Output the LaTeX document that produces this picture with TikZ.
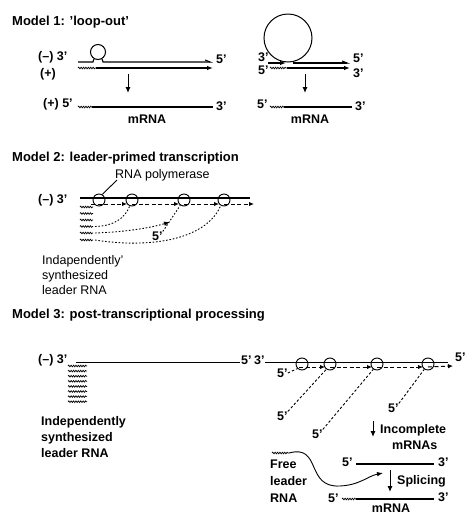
\documentclass[tikz,border=0pt]{standalone}
\usepackage{fontspec}
\setmainfont{Liberation Sans}
\usetikzlibrary{arrows.meta, decorations.pathmorphing, calc, positioning}
\tikzset{
    txt/.style = {inner sep=0pt, anchor=west, font=\fontsize{12.5}{15}\selectfont},
    btxt/.style = {txt, font=\fontsize{12.5}{15}\selectfont\bfseries},
    titletxt/.style = {inner sep=0pt, anchor=west, font=\fontsize{13}{15}\selectfont\bfseries},
    para/.style = {inner sep=0pt, anchor=north west, align=left, font=\fontsize{12.5}{15}\selectfont},
    strand/.style = {line width=1.1pt},
    thinstrand/.style = {line width=0.9pt},
    wavy/.style = {line width=0.7pt, decorate, decoration={snake, amplitude=0.8pt, segment length=2.4pt}},
    loopring/.style = {circle, draw, line width=1pt, inner sep=0pt},
    pol/.style = {circle, draw, line width=0.9pt, minimum size=12pt, inner sep=0pt},
    chainarrow/.style = {line width=1pt, dash pattern=on 4pt off 2.5pt, -{Latex[length=5pt,width=4.5pt]}},
    dotline/.style = {line width=0.9pt, dash pattern=on 1.6pt off 1.8pt},
    dashline/.style = {line width=0.9pt, dash pattern=on 2.5pt off 2pt},
    godown/.style = {line width=1pt, -{Latex[length=6pt,width=5pt]}},
    arrowtip/.style = {-{Latex[length=6pt,width=4.5pt]}},
    halftip/.style = {-{Straight Barb[left,length=5pt,width=4pt]}},
}

\begin{document}
\begin{tikzpicture}[x=1pt, y=-1pt]
\useasboundingbox (0,0) rectangle (465,515);

% Model 1
\node[titletxt] (h1) at (12,22) {Model 1: ’loop-out’};

\node[btxt] (m1l) at (38,57) {(–) 3’};
\node[btxt] (m1p) at (40,74) {(+)};
\coordinate (a1) at (78,62);
\coordinate (a2) at (93,62);
\coordinate (a3) at (103,62);
\coordinate (a4) at (213,62);
\node[loopring, minimum size=15pt] (lpa) at (98,52) {};
\draw[strand] (a1) -- (a2) -- (lpa.240);
\draw[strand, halftip] (lpa.300) -- (a3) -- (a4);
\coordinate (b1) at (78,68);
\coordinate (b2) at (96,68);
\coordinate (b3) at (213,68);
\draw[wavy] (b1) -- (b2);
\draw[strand, arrowtip] (b2) -- (b3);
\node[btxt] (m1r) at (216,59) {5’};
\coordinate (d1) at (128,74);
\coordinate (d2) at (128,93);
\draw[godown] (d1) -- (d2);
\node[btxt] (m1b) at (43,104) {(+) 5’};
\coordinate (r1) at (78,107);
\coordinate (r2) at (92,107);
\coordinate (r3) at (213,107);
\draw[wavy] (r1) -- (r2);
\draw[strand] (r2) -- (r3);
\node[btxt] (m1e) at (216,106) {3’};
\node[btxt, anchor=center] (mrna1) at (147,119) {mRNA};

\node[loopring, minimum size=48pt] (lpb) at (288,38) {};
\coordinate (c1) at (268,63);
\coordinate (c2) at (286,63);
\coordinate (c4) at (350,63);
\draw[strand, arrowtip] (c1) -- (c2);
\draw[strand, halftip] (lpb.282) |- (c4);
\coordinate (s1) at (270,68);
\coordinate (s2) at (287,68);
\coordinate (s3) at (350,68);
\draw[wavy] (s1) -- (s2);
\draw[strand, arrowtip] (s2) -- (s3);
\node[btxt] (n3) at (258,57) {3’};
\node[btxt] (n5) at (258,70) {5’};
\node[btxt] (n5r) at (353,58) {5’};
\node[btxt] (n3r) at (353,73) {3’};
\coordinate (d3) at (305,74);
\coordinate (d4) at (305,93);
\draw[godown] (d3) -- (d4);
\node[btxt] (n5b) at (257,104) {5’};
\coordinate (t1) at (270,107);
\coordinate (t2) at (284,107);
\coordinate (t3) at (352,107);
\draw[wavy] (t1) -- (t2);
\draw[strand] (t2) -- (t3);
\node[btxt] (n3b) at (355,106) {3’};
\node[btxt, anchor=center] (mrna2) at (310,119) {mRNA};

% Model 2
\node[titletxt] (h2) at (12,158) {Model 2: leader-primed transcription};
\node[txt] (rnap) at (115,175) {RNA polymerase};
\node[btxt] (m2l) at (38,200) {(–) 3’};
\coordinate (e1) at (80,198);
\coordinate (e2) at (250,198);
\draw[strand] (e1) -- (e2);
\node[pol] (pa1) at (99,200) {};
\node[pol] (pa2) at (132,200) {};
\node[pol] (pa3) at (184,200) {};
\node[pol] (pa4) at (224,200) {};
\draw[thinstrand] ($(rnap.south west)+(2,-1)$) -- (pa1.60);
\draw[chainarrow] ($(pa1)+(-8,4)$) -- ($(pa2)+(-5,4)$);
\draw[chainarrow] ($(pa2)+(0,4)$) -- ($(pa3)+(-5,4)$);
\draw[chainarrow] ($(pa3)+(0,4)$) -- ($(pa4)+(-5,4)$);
\coordinate (e3) at (254,204);
\draw[chainarrow] ($(pa4)+(0,4)$) -- (e3);
\foreach \y in {207,213.5,220,226.5,233,240}
    \draw[wavy] (80,\y) -- (93,\y);
\draw[dotline] (95,226.5) .. controls (112,226) and (124,220) .. (pa2.250);
\draw[dotline, arrowtip] (95,233) .. controls (125,232) and (150,228) .. (170,222);
\draw[dotline] (95,240) .. controls (145,248) and (205,242) .. (pa4.240);
\node[btxt] (f5) at (152,236) {5’};
\draw[dotline] (f5.north east) -- (pa3.235);
\node[para] (ind2) at (42,255) {Indapendently’\\synthesized\\leader RNA};

% Model 3
\node[titletxt] (h3) at (12,315) {Model 3: post-transcriptional processing};
\node[btxt] (m3l) at (38,360) {(–) 3’};
\coordinate (g1) at (76,362);
\coordinate (g2) at (240,362);
\draw[thinstrand] (g1) -- (g2);
\node[btxt] (g5) at (241,360) {5’};
\foreach \i in {0,...,7}
    \draw[wavy] (68,{366+5.1*\i}) -- (87,{366+5.1*\i});
\node[para, font=\fontsize{12.5}{16}\selectfont\bfseries] (ind3) at (41,416) {Independently\\synthesized\\leader RNA};

\node[btxt] (k3) at (254,360) {3’};
\coordinate (k1) at (265,362);
\coordinate (k2) at (448,362);
\draw[thinstrand] (k1) -- (k2);
\node[pol] (qa1) at (302,364) {};
\node[pol] (qa2) at (330,364) {};
\node[pol] (qa3) at (377,364) {};
\node[pol] (qa4) at (428,364) {};
\draw[chainarrow] ($(qa1)+(-3,3)$) -- ($(qa2)+(-5,3)$);
\draw[chainarrow] ($(qa2)+(0,3)$) -- ($(qa3)+(-5,3)$);
\draw[chainarrow] ($(qa3)+(0,3)$) -- ($(qa4)+(-5,3)$);
\coordinate (k4) at (453,366);
\draw[chainarrow] ($(qa4)+(0,3)$) -- (k4);
\node[btxt] (k5) at (455,357) {5’};
\node[btxt] (q5a) at (277,373) {5’};
\node[btxt] (q5b) at (277,416) {5’};
\node[btxt] (q5c) at (312,434) {5’};
\node[btxt] (q5d) at (388,408) {5’};
\draw[dashline] (q5a.east) -- (qa1.225);
\draw[dashline] (q5b.north east) -- (qa2.235);
\draw[dashline] (q5c.north east) -- (qa3.235);
\draw[dashline] (q5d.north east) -- (qa4.235);

\coordinate (v1) at (373,421);
\coordinate (v2) at (373,437);
\draw[godown] (v1) -- (v2);
\node[btxt] (inc) at (380,430) {Incomplete};
\node[btxt] (incm) at (392,445) {mRNAs};

\coordinate (fl1) at (272,453);
\coordinate (fl2) at (289,453);
\coordinate (fl3) at (383,473);
\draw[wavy] (fl1) -- (fl2);
\draw[thinstrand, arrowtip] (fl2) .. controls (322,444) and (305,488) .. (340,486)
    .. controls (360,485) and (368,476) .. (fl3);
\node[para, font=\fontsize{12.5}{17}\selectfont\bfseries] (free) at (270,460) {Free\\leader\\RNA};

\node[btxt] (w5) at (342,462) {5’};
\coordinate (w1) at (356,464);
\coordinate (w2) at (434,464);
\draw[strand] (w1) -- (w2);
\node[btxt] (w3) at (438,462) {3’};
\coordinate (v3) at (390,470);
\coordinate (v4) at (390,492);
\draw[godown] (v3) -- (v4);
\node[btxt] (spl) at (397,481) {Splicing};
\node[btxt] (z5) at (328,498) {5’};
\coordinate (z1) at (342,499);
\coordinate (z2) at (356,499);
\coordinate (z3) at (434,499);
\draw[wavy] (z1) -- (z2);
\draw[strand] (z2) -- (z3);
\node[btxt] (z3t) at (438,497) {3’};
\node[btxt, anchor=center] (mrna3) at (391,508) {mRNA};
\end{tikzpicture}
\end{document}
